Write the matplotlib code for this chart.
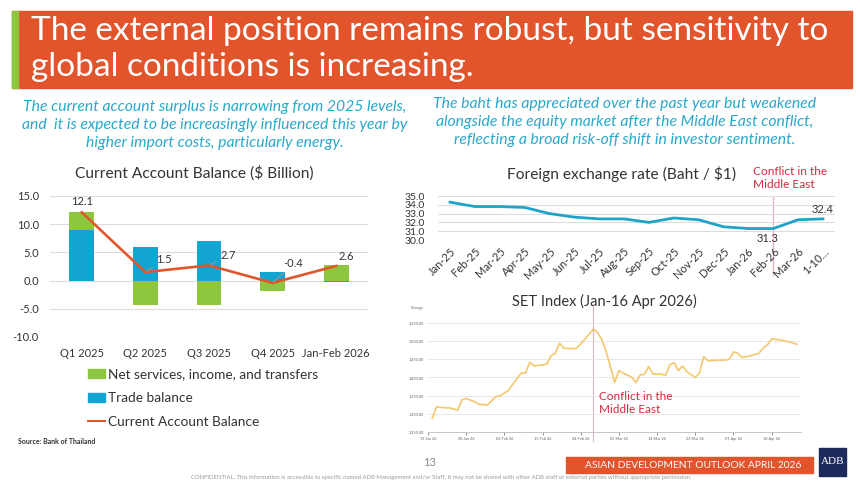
import matplotlib
matplotlib.use("Agg")
import matplotlib.pyplot as plt
from matplotlib.patches import Rectangle
from matplotlib.lines import Line2D
from matplotlib.patches import Patch
import numpy as np
import pandas as pd

# ---------------- data ----------------
ca_categories = ["Q1 2025", "Q2 2025", "Q3 2025", "Q4 2025", "Jan-Feb 2026"]
trade_balance = [9.0, 5.9, 7.0, 1.5, -0.2]
net_services = [3.1, -4.4, -4.3, -1.9, 2.8]
current_account = [12.1, 1.5, 2.7, -0.4, 2.6]
ca_yticks = [15.0, 10.0, 5.0, 0.0, -5.0, -10.0]

fx_labels = ["Jan-25", "Feb-25", "Mar-25", "Apr-25", "May-25", "Jun-25", "Jul-25",
             "Aug-25", "Sep-25", "Oct-25", "Nov-25", "Dec-25", "Jan-26", "Feb-26",
             "Mar-26", "1-10\u2026"]
fx_rate = [34.3, 33.8, 33.8, 33.7, 33.0, 32.6, 32.4, 32.4, 32.0, 32.5, 32.3, 31.5,
           31.3, 31.3, 32.3, 32.4]
fx_yticks = [35.0, 34.0, 33.0, 32.0, 31.0, 30.0]

set_dates = ["2026-01-20", "2026-01-21", "2026-01-23", "2026-01-24", "2026-01-26",
             "2026-01-27", "2026-01-28", "2026-01-30", "2026-01-31", "2026-02-02",
             "2026-02-04", "2026-02-05", "2026-02-07", "2026-02-09", "2026-02-10",
             "2026-02-11", "2026-02-12", "2026-02-13", "2026-02-15", "2026-02-16",
             "2026-02-17", "2026-02-18", "2026-02-19", "2026-02-20", "2026-02-22",
             "2026-02-23", "2026-02-24", "2026-02-27", "2026-02-28", "2026-03-01",
             "2026-03-02", "2026-03-03", "2026-03-04", "2026-03-05", "2026-03-06",
             "2026-03-08", "2026-03-09", "2026-03-10", "2026-03-11", "2026-03-12",
             "2026-03-13", "2026-03-15", "2026-03-16", "2026-03-17", "2026-03-18",
             "2026-03-19", "2026-03-20", "2026-03-21", "2026-03-23", "2026-03-24",
             "2026-03-25", "2026-03-26", "2026-03-28", "2026-03-30", "2026-03-31",
             "2026-04-01", "2026-04-02", "2026-04-03", "2026-04-05", "2026-04-07",
             "2026-04-08", "2026-04-09", "2026-04-10", "2026-04-12", "2026-04-14",
             "2026-04-16"]
set_index = [1287, 1319, 1316, 1316, 1310, 1338, 1342, 1333, 1326, 1324,
             1347, 1349, 1365, 1398, 1412, 1413, 1442, 1432, 1435, 1437,
             1460, 1467, 1495, 1481, 1480, 1481, 1493, 1534, 1524, 1504,
             1471, 1430, 1386, 1419, 1412, 1401, 1386, 1407, 1409, 1430,
             1410, 1409, 1406, 1435, 1441, 1419, 1432, 1416, 1400, 1413,
             1458, 1446, 1448, 1448, 1450, 1471, 1467, 1455, 1460, 1467,
             1482, 1490, 1507, 1504, 1499, 1492]
set_yticks = [1250, 1300, 1350, 1400, 1450, 1500, 1550]
set_xtick_dates = ["2026-01-19", "2026-01-28", "2026-02-06", "2026-02-15", "2026-02-24",
                   "2026-03-05", "2026-03-14", "2026-03-23", "2026-04-01", "2026-04-10"]
conflict_date = "2026-02-27"

# ---------------- style ----------------
W, H = 860, 484
ORANGE = "#E2542B"
GREEN = "#8DC63F"
BLUE = "#12A4D2"
CA_LINE = "#E0562D"
TEAL = "#2AA8CB"
RED = "#D62A40"
GRID = "#dcdcdc"
TXT = "#333333"
FONT = ["Lato", "DejaVu Sans"]

plt.rcParams["font.family"] = FONT

fig = plt.figure(figsize=(W / 100, H / 100), dpi=100)
fig.patch.set_facecolor("white")


def fxp(x):
    return x / W


def fyp(y):
    return 1 - y / H


def rect(l, t, r, b):
    return [l / W, 1 - b / H, (r - l) / W, (b - t) / H]


# ---------------- slide decorations ----------------
fig.patches.append(Rectangle((fxp(12), fyp(88)), (852 - 12) / W, (88 - 11) / H,
                             transform=fig.transFigure, color=ORANGE, zorder=0))
fig.patches.append(Rectangle((fxp(12), fyp(88)), 6 / W, (88 - 11) / H,
                             transform=fig.transFigure, color=GREEN, zorder=1))
fig.text(fxp(31), fyp(31), "The external position remains robust, but sensitivity to",
         color="white", fontsize=24, va="center", ha="left")
fig.text(fxp(31), fyp(67), "global conditions is increasing.",
         color="white", fontsize=24, va="center", ha="left")

fig.text(fxp(215), fyp(125),
         "The current account surplus is narrowing from 2025 levels,\n"
         "and  it is expected to be increasingly influenced this year by\n"
         "higher import costs, particularly energy.",
         color=TEAL, fontsize=11.3, style="italic", ha="center", va="center",
         linespacing=1.38)
fig.text(fxp(625), fyp(122),
         "The baht has appreciated over the past year but weakened\n"
         "alongside the equity market after the Middle East conflict,\n"
         "reflecting a broad risk-off shift in investor sentiment.",
         color=TEAL, fontsize=11.3, style="italic", ha="center", va="center",
         linespacing=1.38)

# ---------------- Current account chart ----------------
ax1 = fig.add_axes(rect(50, 196, 368, 337))
x = np.arange(len(ca_categories))
tb = np.array(trade_balance)
ns = np.array(net_services)
ns_bottom = np.where(np.sign(ns) == np.sign(tb), tb, 0.0)
ax1.bar(x, tb, width=0.39, color=BLUE, zorder=2, label="Trade balance")
ax1.bar(x, ns, bottom=ns_bottom, width=0.39, color=GREEN, zorder=2,
        label="Net services, income, and transfers")
ax1.plot(x, current_account, color=CA_LINE, lw=1.9, zorder=3,
         label="Current Account Balance")
ax1.set_xlim(-0.5, len(ca_categories) - 0.5)
ax1.set_ylim(min(ca_yticks), max(ca_yticks))
ax1.set_yticks(ca_yticks)
ax1.set_yticklabels([f"{v:.1f}" for v in ca_yticks])
ax1.set_xticks(x)
ax1.set_xticklabels(ca_categories)
ax1.grid(axis="y", color=GRID, lw=0.8, zorder=0)
ax1.set_axisbelow(True)
for s in ax1.spines.values():
    s.set_visible(False)
ax1.tick_params(length=0, labelsize=8, colors=TXT, pad=8)
ax1.tick_params(axis="y", pad=8)

label_offsets = [(0, 8, "center", False), (8, 9, "left", True), (8, 7, "left", True),
                 (8, 14, "left", True), (7, 7, "center", False)]
for i, v in enumerate(current_account):
    dx, dy, ha, leader = label_offsets[i]
    ap = dict(arrowstyle="-", color="#9a9a9a", lw=0.8, shrinkA=1, shrinkB=1) if leader else None
    ax1.annotate(f"{v:.1f}", (x[i], v), xytext=(dx, dy), textcoords="offset points",
                 ha=ha, va="center", fontsize=8, color=TXT, arrowprops=ap, zorder=5)

fig.text(fxp(194), fyp(173), "Current Account Balance ($ Billion)", fontsize=11.2,
         color=TXT, ha="center", va="center")

handles = [Patch(color=GREEN), Patch(color=BLUE),
           Line2D([0], [0], color=CA_LINE, lw=1.5)]
labels = ["Net services, income, and transfers", "Trade balance", "Current Account Balance"]
fig.legend(handles, labels, loc="center left", bbox_to_anchor=(fxp(81), fyp(398)),
           frameon=False, fontsize=9.8, handlelength=1.25, handleheight=0.6,
           handletextpad=0.2, labelspacing=0.85, borderpad=0, labelcolor=TXT)

fig.text(fxp(18), fyp(442), "Source: Bank of Thailand", fontsize=5, color=TXT,
         ha="left", va="center", fontweight="bold")

# ---------------- FX chart ----------------
ax2 = fig.add_axes(rect(437.6, 196, 835.4, 240))
xf = np.arange(len(fx_labels))
ax2.plot(xf, fx_rate, color="#1FA3C9", lw=2, zorder=3)
ax2.set_xlim(-0.5, len(fx_labels) - 0.5)
ax2.set_ylim(min(fx_yticks), max(fx_yticks))
ax2.set_yticks(fx_yticks)
ax2.set_yticklabels([f"{v:.1f}" for v in fx_yticks])
ax2.set_xticks(xf)
ax2.set_xticklabels(fx_labels, rotation=45, ha="right", rotation_mode="anchor")
ax2.grid(axis="y", color=GRID, lw=0.8, zorder=0)
for s in ax2.spines.values():
    s.set_visible(False)
ax2.tick_params(length=0, labelsize=8, colors=TXT)
ax2.tick_params(axis="y", pad=9, labelsize=7.5)
ax2.tick_params(axis="x", pad=4)
i_conf = fx_labels.index("Feb-26")
ax2.axvline(i_conf, ymin=-0.8, ymax=1.0, color="#ebb0b6", lw=0.9, clip_on=False, zorder=1)
ax2.annotate(f"{fx_rate[i_conf]:.1f}", (i_conf, fx_rate[i_conf]), xytext=(-4, -3),
             textcoords="offset points", ha="center", va="top", fontsize=8, color=TXT)
ax2.annotate(f"{fx_rate[-1]:.1f}", (xf[-1], fx_rate[-1]), xytext=(0, 3),
             textcoords="offset points", ha="center", va="bottom", fontsize=8, color=TXT)
fig.text(fxp(622), fyp(174), "Foreign exchange rate (Baht / $1)", fontsize=11.2,
         color=TXT, ha="center", va="center")
fig.text(fxp(753), fyp(178), "Conflict in the\nMiddle East", fontsize=8.6, color=RED,
         ha="left", va="center", linespacing=1.15)

# ---------------- SET chart ----------------
ax3 = fig.add_axes(rect(428, 323.3, 801, 431.7))
sd = pd.to_datetime(set_dates)
ax3.plot(sd, set_index, color="#F3C86E", lw=1.2, zorder=3)
ax3.set_xlim(pd.Timestamp("2026-01-19 08:00"), pd.Timestamp("2026-04-16 22:00"))
ax3.set_ylim(min(set_yticks), max(set_yticks))
ax3.set_yticks(set_yticks)
ax3.set_yticklabels([f"{v:,.2f}" for v in set_yticks])
xt = pd.to_datetime(set_xtick_dates)
ax3.set_xticks(xt)
ax3.set_xticklabels([d.strftime("%d %b %y") for d in xt])
ax3.grid(axis="y", color="#e8e8e8", lw=0.7, zorder=0)
for k in ["top", "right", "left"]:
    ax3.spines[k].set_visible(False)
ax3.spines["bottom"].set_color("#bdbdbd")
ax3.spines["bottom"].set_linewidth(0.6)
ax3.tick_params(axis="y", length=0, labelsize=2.8, colors="#666666", pad=3)
ax3.tick_params(axis="x", length=2, width=0.5, labelsize=2.8, colors="#666666", pad=2)
ax3.text(-0.045, 1.14, "Change", transform=ax3.transAxes, fontsize=2.8,
         color="#666666", ha="left", va="center")
ax3.axvline(pd.Timestamp(conflict_date), ymin=-0.09, ymax=1.16, color="#dcb6b9", lw=0.8,
            clip_on=False, zorder=1)
fig.text(fxp(604), fyp(301), "SET Index (Jan-16 Apr 2026)", fontsize=10.5,
         color=TXT, ha="center", va="center")
fig.text(fxp(599), fyp(403), "Conflict in the\nMiddle East", fontsize=8.5, color=RED,
         ha="left", va="center", linespacing=1.15)

# ---------------- footer ----------------
fig.text(fxp(430), fyp(462), "13", fontsize=8, color="#8a8a8a", ha="center", va="center")
fig.patches.append(Rectangle((fxp(566), fyp(473)), (813 - 566) / W, 16 / H,
                             transform=fig.transFigure, color=ORANGE, zorder=0))
fig.text(fxp(693), fyp(465), "ASIAN DEVELOPMENT OUTLOOK APRIL 2026", fontsize=7.4,
         color="white", ha="center", va="center")
fig.patches.append(Rectangle((fxp(819), fyp(476)), 27 / W, 28 / H,
                             transform=fig.transFigure, color="#1D2A5C", zorder=0))
fig.text(fxp(832.5), fyp(462), "ADB", fontsize=8, color="white", ha="center",
         va="center", family=["Liberation Serif", "DejaVu Serif"])
fig.text(fxp(441), fyp(478),
         "CONFIDENTIAL. This information is accessible to specific named ADB Management "
         "and/or Staff. It may not be shared with other ADB staff or external parties "
         "without appropriate permission.",
         fontsize=4.35, color="#9a9a9a", ha="center", va="center")

fig.savefig("out.png", dpi=100, facecolor="white")
